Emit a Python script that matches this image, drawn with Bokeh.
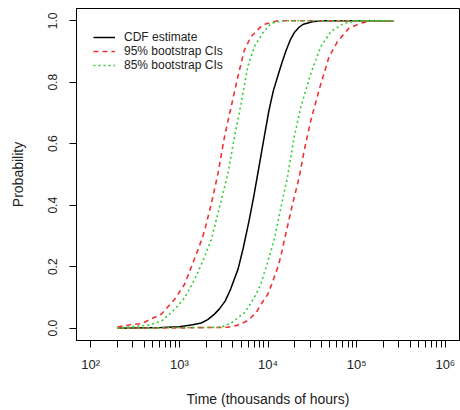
from bokeh.plotting import figure
from bokeh.models import FixedTicker, Range1d
from bokeh.embed import file_html
from bokeh.resources import INLINE

# CDF estimate
cdf_time = [200, 631, 1000, 1413, 1767, 2089, 2473, 2818, 3286, 3802, 4603, 5248, 6120,
            6918, 7780, 8913, 10260, 11480, 12950, 14450, 15850, 17780, 19950, 22390,
            25120, 31620, 39810, 260000]
cdf_prob = [0.0, 0.002, 0.005, 0.011, 0.017, 0.028, 0.045, 0.062, 0.088, 0.128, 0.193, 0.260,
            0.350, 0.430, 0.513, 0.610, 0.709, 0.772, 0.822, 0.866, 0.900, 0.937, 0.963,
            0.979, 0.989, 0.997, 1.0, 1.0]

# 95% bootstrap CI (left / upper-probability band)
ci95_left_time = [200, 289, 374, 628, 885, 1147, 1426, 1767, 1925, 2290, 2722, 3228, 3839,
                  4567, 5418, 6442, 8718, 12850, 260000]
ci95_left_prob = [0.004, 0.012, 0.015, 0.046, 0.094, 0.143, 0.213, 0.284, 0.317, 0.404, 0.502,
                  0.622, 0.720, 0.818, 0.905, 0.949, 0.987, 1.0, 1.0]

# 95% bootstrap CI (right / lower-probability band)
ci95_right_time = [200, 1052, 3524, 4570, 5914, 7328, 8570, 9930, 11010, 12850, 14000, 14630,
                   16640, 18940, 21570, 22890, 25600, 30410, 37680, 48840, 60680, 81870,
                   110900, 143600, 260000]
ci95_right_prob = [0.0, 0.001, 0.003, 0.010, 0.025, 0.050, 0.083, 0.110, 0.143, 0.197, 0.235,
                   0.262, 0.333, 0.404, 0.470, 0.502, 0.578, 0.676, 0.775, 0.883, 0.932, 0.976,
                   0.992, 1.0, 1.0]

# 85% bootstrap CI (left)
ci85_left_time = [200, 449, 628, 885, 1147, 1486, 1846, 2290, 2965, 3524, 4182, 4970, 5914,
                  7021, 8718, 10820, 15130, 260000]
ci85_left_prob = [0.001, 0.010, 0.023, 0.061, 0.099, 0.159, 0.219, 0.288, 0.415, 0.502, 0.622,
                  0.731, 0.851, 0.916, 0.960, 0.992, 1.0, 1.0]

# 85% bootstrap CI (right)
ci85_right_time = [200, 2965, 3839, 5418, 6442, 7328, 8340, 9930, 11780, 14000, 16560, 19750,
                   23490, 30410, 39430, 51050, 71980, 101900, 260000]
ci85_right_prob = [0.0, 0.003, 0.017, 0.050, 0.083, 0.110, 0.145, 0.216, 0.289, 0.393, 0.491,
                   0.622, 0.720, 0.829, 0.916, 0.965, 0.992, 1.0, 1.0]

x_major = [100, 1000, 10000, 100000, 1000000]
x_labels = ["10\u00b2", "10\u00b3", "10\u2074", "10\u2075", "10\u2076"]
x_minor = [m * 10 ** k for k in range(2, 6) for m in range(2, 10)]
y_ticks = [0.0, 0.2, 0.4, 0.6, 0.8, 1.0]
y_labels = ["0.0", "0.2", "0.4", "0.6", "0.8", "1.0"]

FONT = "Liberation Sans"
TXT = "#222222"

p = figure(width=460, height=410, x_axis_type="log", output_backend="svg",
           toolbar_location=None,
           x_range=Range1d(10 ** 1.84, 10 ** 6.16), y_range=Range1d(-0.04, 1.04),
           min_border_left=76, min_border_right=1, min_border_top=8, min_border_bottom=70,
           x_axis_label="Time (thousands of hours)", y_axis_label="Probability")
p.background_fill_color = "white"
p.border_fill_color = "white"
p.outline_line_color = "black"
p.outline_line_width = 1
p.grid.visible = False

p.line(cdf_time, cdf_prob, line_color="black", line_width=1.5, legend_label="CDF estimate")
p.line(ci95_left_time, ci95_left_prob, line_color="#ee3333", line_width=1.6, line_dash="5 4",
       legend_label="95% bootstrap CIs")
p.line(ci95_right_time, ci95_right_prob, line_color="#ee3333", line_width=1.6, line_dash="5 4")
p.line(ci85_left_time, ci85_left_prob, line_color="#33cc33", line_width=1.6, line_dash="2 3",
       legend_label="85% bootstrap CIs")
p.line(ci85_right_time, ci85_right_prob, line_color="#33cc33", line_width=1.6, line_dash="2 3")

xa = p.xaxis[0]
xa.ticker = FixedTicker(ticks=x_major, minor_ticks=x_minor)
xa.major_label_overrides = {float(v): s for v, s in zip(x_major, x_labels)}
ya = p.yaxis[0]
ya.ticker = FixedTicker(ticks=y_ticks)
ya.major_label_overrides = {v: s for v, s in zip(y_ticks, y_labels)}
ya.major_label_orientation = "vertical"

for ax in (xa, ya):
    ax.axis_line_color = "black"
    ax.major_tick_line_color = "black"
    ax.minor_tick_line_color = "black"
    ax.major_tick_out = 7
    ax.major_tick_in = 0
    ax.minor_tick_out = 7
    ax.minor_tick_in = 0
    ax.major_label_text_font = FONT
    ax.major_label_text_font_size = "12px"
    ax.major_label_text_color = TXT
    ax.axis_label_text_font = FONT
    ax.axis_label_text_font_size = "14px"
    ax.axis_label_text_font_style = "normal"
    ax.axis_label_text_color = TXT
xa.major_label_text_font_size = "13px"
xa.major_label_standoff = 9
xa.axis_label_standoff = 16
ya.major_label_standoff = 12
ya.axis_label_standoff = 20

lg = p.legend[0]
lg.location = (17, 268)
lg.padding = 0
lg.margin = 0
lg.spacing = 0
lg.border_line_color = None
lg.background_fill_alpha = 0
lg.label_height = 14
lg.glyph_height = 14
lg.glyph_width = 22
lg.label_standoff = 9
lg.label_text_font = FONT
lg.label_text_font_size = "12px"
lg.label_text_color = TXT
lg.label_text_baseline = "middle"

open("out.html", "w").write(file_html(p, INLINE))
